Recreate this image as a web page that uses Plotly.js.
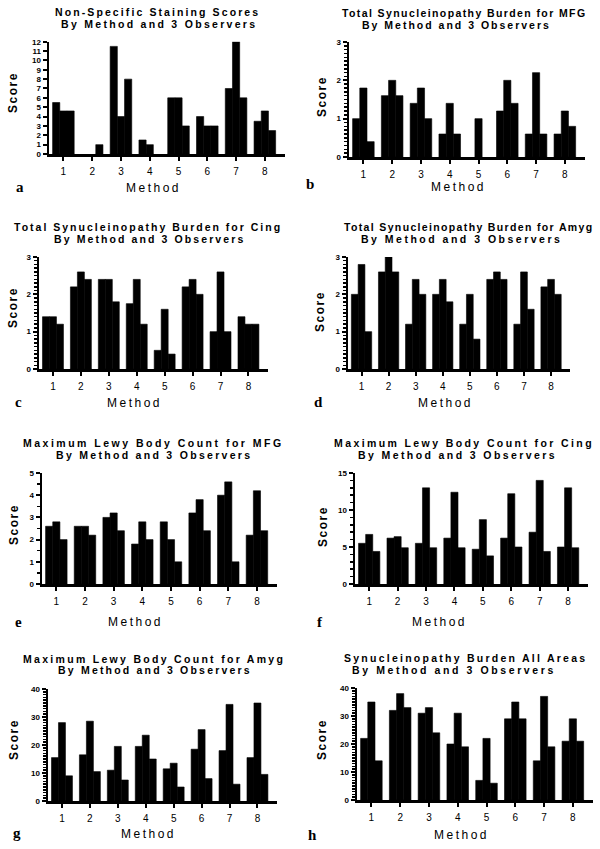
<!DOCTYPE html>
<html><head><meta charset="utf-8">
<script src="https://cdn.plot.ly/plotly-3.0.1.min.js"></script>
<style>html,body{margin:0;padding:0;background:#fff}#chart{width:600px;height:849px}</style>
</head><body><div id="chart"></div>
<script>
// ---------- DATA ----------
const methods = [1, 2, 3, 4, 5, 6, 7, 8];
const methodTickLabels = ['1', '2', '3', '4', '5', '6', '7', '8'];
const observers = ['Observer 1', 'Observer 2', 'Observer 3'];

const nonSpecificObs1 = [5.5, 0, 11.5, 1.5, 6, 4, 7, 3.5];
const nonSpecificObs2 = [4.6, 0, 4, 1, 6, 3, 12, 4.6];
const nonSpecificObs3 = [4.6, 1, 8, 0, 3, 3, 6, 2.5];

const mfgBurdenObs1 = [1.0, 1.6, 1.4, 0.6, 0, 1.2, 0.6, 0.6];
const mfgBurdenObs2 = [1.8, 2.0, 1.8, 1.4, 1.0, 2.0, 2.2, 1.2];
const mfgBurdenObs3 = [0.4, 1.6, 1.0, 0.6, 0, 1.4, 0.6, 0.8];

const cingBurdenObs1 = [1.4, 2.2, 2.4, 1.75, 0.5, 2.2, 1.0, 1.4];
const cingBurdenObs2 = [1.4, 2.6, 2.4, 2.4, 1.6, 2.4, 2.6, 1.2];
const cingBurdenObs3 = [1.2, 2.4, 1.8, 1.2, 0.4, 2.0, 1.0, 1.2];

const amygBurdenObs1 = [2.0, 2.6, 1.2, 2.0, 1.2, 2.4, 1.2, 2.2];
const amygBurdenObs2 = [2.8, 3.0, 2.4, 2.4, 2.0, 2.6, 2.6, 2.4];
const amygBurdenObs3 = [1.0, 2.6, 2.0, 1.8, 0.8, 2.4, 1.6, 2.0];

const mfgLewyObs1 = [2.6, 2.6, 3.0, 1.8, 2.8, 3.2, 4.0, 2.2];
const mfgLewyObs2 = [2.8, 2.6, 3.2, 2.8, 2.0, 3.8, 4.6, 4.2];
const mfgLewyObs3 = [2.0, 2.2, 2.4, 2.0, 1.0, 2.4, 1.0, 2.4];

const cingLewyObs1 = [5.5, 6.2, 5.5, 6.2, 4.7, 6.2, 7.0, 5.0];
const cingLewyObs2 = [6.7, 6.4, 13.0, 12.4, 8.7, 12.2, 14.0, 13.0];
const cingLewyObs3 = [4.4, 4.9, 4.9, 4.9, 3.8, 5.0, 4.4, 4.9];

const amygLewyObs1 = [15.5, 16.5, 11, 19.5, 11.5, 18.5, 18, 15.5];
const amygLewyObs2 = [28, 28.5, 19.5, 23.5, 13.5, 25.5, 34.5, 35];
const amygLewyObs3 = [9, 10.5, 7.5, 15, 5, 8, 6, 9.5];

const allAreasObs1 = [22, 32, 31, 20, 7, 29, 14, 21];
const allAreasObs2 = [35, 38, 33, 31, 22, 35, 37, 29];
const allAreasObs3 = [14, 33, 24, 19, 6, 29, 19, 21];

const panelTitles = [
  'Non-Specific Staining Scores',
  'Total Synucleinopathy Burden for MFG',
  'Total Synucleinopathy Burden for Cing',
  'Total Synucleinopathy Burden for Amyg',
  'Maximum Lewy Body Count for MFG',
  'Maximum Lewy Body Count for Cing',
  'Maximum Lewy Body Count for Amyg',
  'Synucleinopathy Burden All Areas'
];
const panelSubtitle = 'By Method and 3 Observers';
const panelLetters = ['a', 'b', 'c', 'd', 'e', 'f', 'g', 'h'];
const yAxisTitle = 'Score';
const xAxisTitle = 'Method';
const yMax = [12, 3, 3, 3, 5, 15, 40, 40];
const yDtick = [1, 1, 1, 1, 1, 5, 10, 10];
const yMinor = [null, 0.1, 0.1, 0.1, 0.5, 1, 1, 1];

const panelSeries = [
  [nonSpecificObs1, nonSpecificObs2, nonSpecificObs3],
  [mfgBurdenObs1, mfgBurdenObs2, mfgBurdenObs3],
  [cingBurdenObs1, cingBurdenObs2, cingBurdenObs3],
  [amygBurdenObs1, amygBurdenObs2, amygBurdenObs3],
  [mfgLewyObs1, mfgLewyObs2, mfgLewyObs3],
  [cingLewyObs1, cingLewyObs2, cingLewyObs3],
  [amygLewyObs1, amygLewyObs2, amygLewyObs3],
  [allAreasObs1, allAreasObs2, allAreasObs3]
];

// ---------- LAYOUT GEOMETRY (pixels) ----------
const W = 600, H = 849;
const boxes = [
  {l: 49, r: 285, t: 41.7, b: 154},
  {l: 349, r: 585, t: 42, b: 157},
  {l: 39, r: 268, t: 257, b: 369},
  {l: 348, r: 570, t: 257, b: 369},
  {l: 42, r: 277, t: 473, b: 584},
  {l: 355, r: 588, t: 473, b: 584},
  {l: 48, r: 277, t: 689, b: 801},
  {l: 357, r: 593, t: 688, b: 800}
];
const titlePos = [
  {x1: 158, y1: 12, s1: 2.1, x2: 158.5, y2: 24, s2: 2.3},
  {x1: 464, y1: 13, s1: 1.4, x2: 456, y2: 25, s2: 2.0},
  {x1: 148, y1: 227, s1: 2.0, x2: 149, y2: 239, s2: 2.1},
  {x1: 468, y1: 227, s1: 1.35, x2: 461.5, y2: 239, s2: 2.5},
  {x1: 153, y1: 443, s1: 2.5, x2: 154, y2: 455, s2: 2.3},
  {x1: 463.5, y1: 443, s1: 2.4, x2: 457, y2: 455, s2: 2.4},
  {x1: 154, y1: 659, s1: 2.3, x2: 154.5, y2: 670, s2: 2.2},
  {x1: 465, y1: 658, s1: 2.25, x2: 454.5, y2: 670, s2: 2.6}
];
const methodPos = [
  {x: 153, y: 188}, {x: 458, y: 187}, {x: 134, y: 403}, {x: 445, y: 403},
  {x: 135, y: 622}, {x: 440, y: 622}, {x: 148, y: 834}, {x: 461, y: 835}
];
const letterPos = [
  {x: 20, y: 187}, {x: 310, y: 184}, {x: 18, y: 402}, {x: 318, y: 402},
  {x: 18, y: 622}, {x: 320, y: 622}, {x: 17, y: 833}, {x: 313, y: 835}
];
const scorePos = [
  {x: 13, y: 93}, {x: 322, y: 97}, {x: 13, y: 308}, {x: 320, y: 312},
  {x: 14, y: 525}, {x: 323, y: 527}, {x: 14, y: 740}, {x: 322, y: 740}
];

const px = v => v / W;
const py = v => 1 - v / H;

const SANS = 'Liberation Sans, Arial, sans-serif';
const SERIF = 'Liberation Serif, Times New Roman, serif';

const traces = [];
const layout = {
  width: W, height: H,
  margin: {l: 0, r: 0, t: 0, b: 0},
  paper_bgcolor: '#fff', plot_bgcolor: '#fff',
  showlegend: false,
  barmode: 'group', bargap: 0.25, bargroupgap: 0,
  font: {family: SANS, color: '#000'},
  annotations: []
};

panelSeries.forEach((series, i) => {
  const n = i + 1;
  const xa = 'x' + (n === 1 ? '' : n), ya = 'y' + (n === 1 ? '' : n);
  series.forEach((vals, k) => {
    traces.push({
      type: 'bar', x: methods, y: vals, name: observers[k],
      xaxis: xa, yaxis: ya,
      // thin outline merges adjacent bars; skipped for zero-height bars
      marker: {color: '#000', line: {width: vals.map(v => v > 0 ? 0.6 : 0), color: '#000'}},
      hoverinfo: 'skip'
    });
  });
  const b = boxes[i];
  const xKey = 'xaxis' + (n === 1 ? '' : n), yKey = 'yaxis' + (n === 1 ? '' : n);
  layout[xKey] = {
    domain: [px(b.l), px(b.r)], anchor: ya,
    range: [0.5, 8.7], tickvals: methods, ticktext: methodTickLabels,
    ticks: 'outside', ticklen: 4, tickwidth: 2, tickcolor: '#000',
    showline: true, linewidth: 2.5, linecolor: '#000',
    showgrid: false, zeroline: false, fixedrange: true,
    tickfont: {family: SANS, size: 10, color: '#000'},
    ticklabelstandoff: 2
  };
  const yax = {
    domain: [py(b.b), py(b.t)], anchor: xa,
    range: [0, yMax[i]], dtick: yDtick[i], tick0: 0,
    ticks: 'outside', ticklen: 4, tickwidth: 2, tickcolor: '#000',
    showline: true, linewidth: 2.5, linecolor: '#000',
    showgrid: false, zeroline: false, fixedrange: true,
    tickfont: {family: SANS, size: 8, color: '#000', weight: 'bold'}
  };
  if (yMinor[i]) {
    yax.minor = {dtick: yMinor[i], tick0: 0, ticks: 'outside', ticklen: 2.5, tickwidth: 1.5, tickcolor: '#000', showgrid: false};
  }
  layout[yKey] = yax;

  const tp = titlePos[i];
  layout.annotations.push({
    xref: 'paper', yref: 'paper', x: px(tp.x1), y: py(tp.y1), xanchor: 'center', yanchor: 'middle',
    showarrow: false, font: {family: SANS, size: 10.5, color: '#000', weight: 'bold'},
    text: '<span style="letter-spacing:' + tp.s1 + 'px">' + panelTitles[i] + '</span>'
  });
  layout.annotations.push({
    xref: 'paper', yref: 'paper', x: px(tp.x2), y: py(tp.y2), xanchor: 'center', yanchor: 'middle',
    showarrow: false, font: {family: SANS, size: 10.5, color: '#000', weight: 'bold'},
    text: '<span style="letter-spacing:' + tp.s2 + 'px">' + panelSubtitle + '</span>'
  });
  const mp = methodPos[i];
  layout.annotations.push({
    xref: 'paper', yref: 'paper', x: px(mp.x), y: py(mp.y), xanchor: 'center', yanchor: 'middle',
    showarrow: false, font: {family: SANS, size: 12, color: '#000'},
    text: '<span style="letter-spacing:2.5px">' + xAxisTitle + '</span>'
  });
  const lp = letterPos[i];
  layout.annotations.push({
    xref: 'paper', yref: 'paper', x: px(lp.x), y: py(lp.y), xanchor: 'center', yanchor: 'middle',
    showarrow: false, font: {family: SERIF, size: 15, color: '#000', weight: 'bold'},
    text: panelLetters[i]
  });
  const sp = scorePos[i];
  layout.annotations.push({
    xref: 'paper', yref: 'paper', x: px(sp.x), y: py(sp.y), xanchor: 'center', yanchor: 'middle',
    showarrow: false, textangle: -90, font: {family: SANS, size: 12, color: '#000', weight: 'bold'},
    text: '<span style="letter-spacing:1.5px">' + yAxisTitle + '</span>'
  });
});

Plotly.newPlot('chart', traces, layout, {staticPlot: true, displayModeBar: false});
</script>
</body></html>
